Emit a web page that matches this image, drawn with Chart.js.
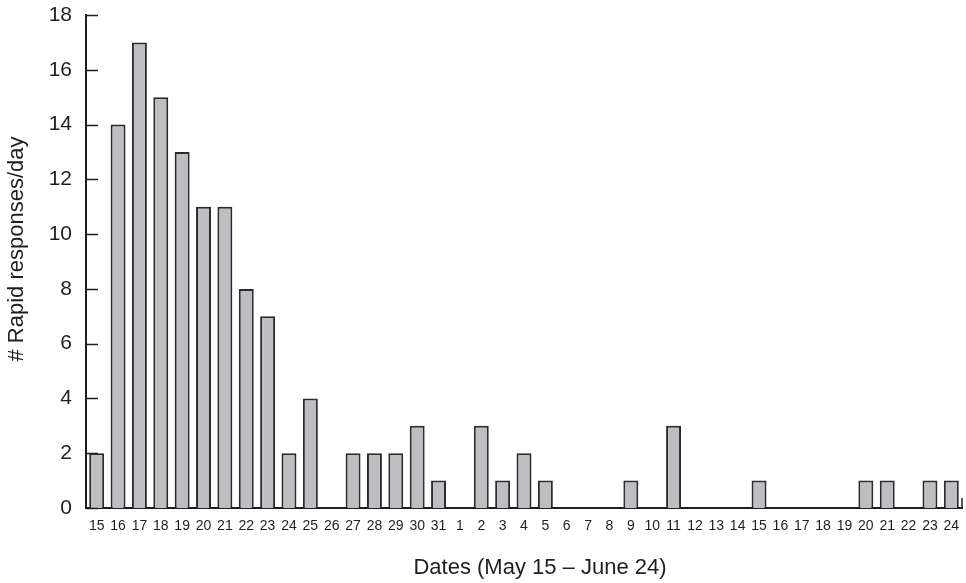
<!DOCTYPE html>
<html>
<head>
<meta charset="utf-8">
<script src="https://cdn.jsdelivr.net/npm/chart.js@4/dist/chart.umd.min.js"></script>
<style>
  html, body { margin: 0; padding: 0; background: #fff; }
  #wrap { width: 966px; height: 583px; }
</style>
</head>
<body>
<div id="wrap"><canvas id="chart" width="966" height="583"></canvas></div>
<script>
// ─── Data ────────────────────────────────────────────
const days = ['15','16','17','18','19','20','21','22','23','24','25','26','27','28','29','30','31',
  '1','2','3','4','5','6','7','8','9','10','11','12','13','14','15','16','17','18','19','20','21','22','23','24'];
const responses = [2,14,17,15,13,11,11,8,7,2,4,0,2,2,2,3,1,
  0,3,1,2,1,0,0,0,1,0,3,0,0,0,1,0,0,0,0,1,1,0,1,1];
const yTicks = [0,2,4,6,8,10,12,14,16,18];
const xTitle = 'Dates (May 15 – June 24)';
const yTitle = '# Rapid responses/day';

const ink = '#1e1e1e';
const font = "'Liberation Sans', Arial, Helvetica, sans-serif";

// inward tick marks on y axis, end tick on x axis, axis titles
const axisExtras = {
  id: 'axisExtras',
  afterDraw(chart) {
    const { ctx, chartArea, scales } = chart;
    ctx.save();
    ctx.strokeStyle = ink;
    ctx.lineWidth = 1.5;
    yTicks.forEach((v) => {
      const y = Math.round(scales.y.getPixelForValue(v)) + 0.5;
      ctx.beginPath();
      ctx.moveTo(chartArea.left, y);
      ctx.lineTo(chartArea.left + 12, y);
      ctx.stroke();
    });
    ctx.beginPath();
    ctx.moveTo(chartArea.right, chartArea.bottom);
    ctx.lineTo(chartArea.right, chartArea.bottom - 10);
    ctx.stroke();

    ctx.fillStyle = ink;
    ctx.font = '22px ' + font;
    ctx.textAlign = 'center';
    ctx.textBaseline = 'middle';
    ctx.fillText(xTitle, chartArea.left + 454, 568);
    ctx.translate(17, chartArea.top + 234);
    ctx.rotate(-Math.PI / 2);
    ctx.fillText(yTitle, 0, 0);
    ctx.restore();
  },
};

new Chart(document.getElementById('chart'), {
  type: 'bar',
  data: {
    labels: days,
    datasets: [{
      data: responses,
      backgroundColor: '#bdbec2',
      borderColor: '#2b2b2b',
      borderWidth: 2,
      barPercentage: 0.7,
      categoryPercentage: 1.0,
      borderSkipped: 'bottom',
    }],
  },
  options: {
    responsive: false,
    animation: false,
    devicePixelRatio: 1,
    layout: { padding: { top: 15, right: 4, left: 0, bottom: 0 } },
    plugins: { legend: { display: false }, tooltip: { enabled: false } },
    scales: {
      x: {
        grid: { display: false, drawTicks: false },
        border: { display: true, color: ink, width: 2 },
        ticks: { color: ink, autoSkip: false, maxRotation: 0, padding: 10, font: { family: font, size: 14 } },
        afterFit: (s) => { s.height = 75; s.paddingLeft = 0; s.paddingRight = 0; },
      },
      y: {
        min: 0,
        max: 18,
        grid: { display: false, drawTicks: false },
        border: { display: true, color: ink, width: 2 },
        ticks: { stepSize: 2, color: ink, padding: 14, font: { family: font, size: 21 } },
        afterFit: (s) => { s.width = 86; s.paddingTop = 0; s.paddingBottom = 0; },
      },
    },
  },
  plugins: [axisExtras],
});
</script>
</body>
</html>
